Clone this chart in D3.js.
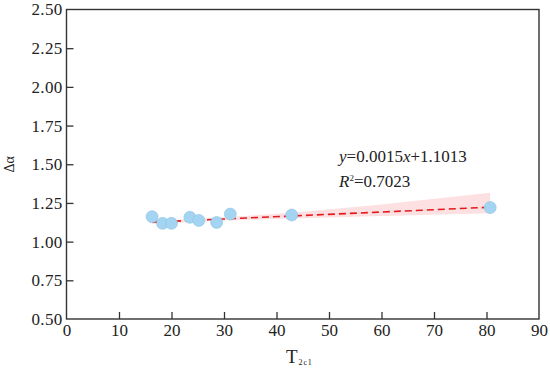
<!DOCTYPE html>
<html>
<head>
<meta charset="utf-8">
<script src="https://cdn.jsdelivr.net/npm/d3@7"></script>
<style>
  body { margin: 0; background: #fff; }
  text { font-family: "Liberation Serif", "Times New Roman", serif; fill: #222; }
</style>
</head>
<body>
<div id="chart"></div>
<script>
// measured points (T2c1 vs delta alpha)
var xVals = [16.3, 18.3, 20.0, 23.5, 25.2, 28.6, 31.2, 42.9, 80.7];
var yVals = [1.161, 1.118, 1.118, 1.157, 1.137, 1.124, 1.178, 1.172, 1.220];

// fit line y = slope*x + intercept
var slope = 0.0015;
var intercept = 1.1013;

// confidence band
var bandX  = [16.3, 30, 43, 60, 80.7];
var bandLo = [1.114, 1.136, 1.150, 1.166, 1.183];
var bandHi = [1.134, 1.157, 1.186, 1.240, 1.316];

var xTicks = [0, 10, 20, 30, 40, 50, 60, 70, 80, 90];
var yTicks = [0.50, 0.75, 1.00, 1.25, 1.50, 1.75, 2.00, 2.25, 2.50];

var W = 550, H = 369;
var m = {left: 66.5, right: 11, top: 9.5, bottom: 50};

var svg = d3.select("#chart").append("svg")
  .attr("width", W).attr("height", H);

var x = d3.scaleLinear().domain([0, 90]).range([m.left, W - m.right]);
var y = d3.scaleLinear().domain([0.5, 2.5]).range([H - m.bottom, m.top]);

// band
var band = bandX.map(function(d, i) { return {x: d, lo: bandLo[i], hi: bandHi[i]}; });
svg.append("path")
  .datum(band)
  .attr("fill", "#fde0e1")
  .attr("d", d3.area()
    .x(function(d) { return x(d.x); })
    .y0(function(d) { return y(d.lo); })
    .y1(function(d) { return y(d.hi); }));

// fit line
var x0 = d3.min(xVals), x1 = d3.max(xVals);
svg.append("line")
  .attr("x1", x(x0)).attr("y1", y(slope * x0 + intercept))
  .attr("x2", x(x1)).attr("y2", y(slope * x1 + intercept))
  .attr("stroke", "#e3191c")
  .attr("stroke-width", 1.6)
  .attr("stroke-dasharray", "7,4");

// points
svg.selectAll(".pt")
  .data(xVals)
  .enter().append("circle")
  .attr("class", "pt")
  .attr("cx", function(d) { return x(d); })
  .attr("cy", function(d, i) { return y(yVals[i]); })
  .attr("r", 6)
  .attr("fill", "#a3d4f1")
  .attr("stroke", "#8fc3e3")
  .attr("stroke-width", 0.6);

// frame
svg.append("rect")
  .attr("x", m.left).attr("y", m.top)
  .attr("width", W - m.right - m.left)
  .attr("height", H - m.bottom - m.top)
  .attr("fill", "none")
  .attr("stroke", "#333")
  .attr("stroke-width", 1.4);

// axes, ticks pointing in
var xAxis = svg.append("g")
  .attr("transform", "translate(0," + (H - m.bottom) + ")")
  .call(d3.axisBottom(x).tickValues(xTicks).tickSizeInner(-7).tickSizeOuter(0).tickPadding(5));
var yAxis = svg.append("g")
  .attr("transform", "translate(" + m.left + ",0)")
  .call(d3.axisLeft(y).tickValues(yTicks).tickSizeInner(-7).tickSizeOuter(0).tickPadding(4)
    .tickFormat(d3.format(".2f")));

[xAxis, yAxis].forEach(function(a) {
  a.attr("font-family", null).attr("font-size", null);
  a.select(".domain").remove();
  a.selectAll(".tick line").attr("stroke", "#333").attr("stroke-width", 1.3);
  a.selectAll(".tick text")
    .style("font-family", "'Liberation Serif', serif")
    .style("font-size", "17px")
    .attr("fill", "#222");
});
yAxis.selectAll(".tick text").style("letter-spacing", "0.3px");
// hide tick marks at the corners
xAxis.selectAll(".tick line").filter(function(d) { return d === 0 || d === 90; }).remove();
yAxis.selectAll(".tick line").filter(function(d) { return d === 0.5 || d === 2.5; }).remove();

// axis titles
svg.append("text")
  .attr("transform", "translate(14," + y(1.5) + ") rotate(-90)")
  .attr("text-anchor", "middle")
  .style("font-size", "14px")
  .text("Δα");

var xt = svg.append("text")
  .attr("x", 286).attr("y", 363)
  .style("font-size", "19px");
xt.append("tspan").text("T");
xt.append("tspan").attr("dx", 1).attr("dy", 2).style("font-size", "8px").style("letter-spacing", "0.8px").text("2c1");

// equation
var eq = svg.append("text").attr("x", 339).attr("y", 162).style("font-size", "17px");
eq.append("tspan").style("font-style", "italic").text("y");
eq.append("tspan").text("=0.0015");
eq.append("tspan").style("font-style", "italic").text("x");
eq.append("tspan").text("+1.1013");

var r2 = svg.append("text").attr("x", 339).attr("y", 187).style("font-size", "17px");
r2.append("tspan").style("font-style", "italic").text("R");
r2.append("tspan").attr("dy", -6).style("font-size", "9px").text("2");
r2.append("tspan").attr("dy", 6).text("=0.7023");
</script>
</body>
</html>
